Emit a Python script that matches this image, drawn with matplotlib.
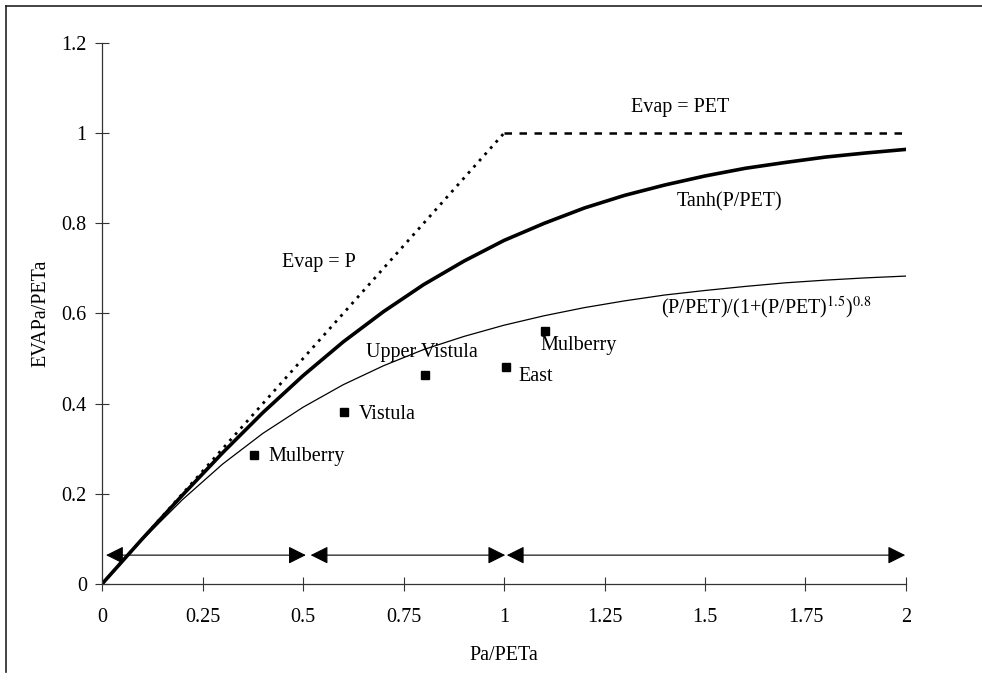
import numpy as np
import matplotlib
matplotlib.use("Agg")
from matplotlib import pyplot as plt
from matplotlib.lines import Line2D

plt.rcParams['font.family'] = ['Liberation Serif', 'DejaVu Serif']
plt.rcParams['mathtext.fontset'] = 'stix'

# curve values
p_ratio = [0.0, 0.1, 0.2, 0.3, 0.4, 0.5, 0.6, 0.7, 0.8, 0.9, 1.0,
           1.1, 1.2, 1.3, 1.4, 1.5, 1.6, 1.7, 1.8, 1.9, 2.0]
tanh_vals = [0.0, 0.100, 0.197, 0.291, 0.380, 0.462, 0.537, 0.604, 0.664, 0.716, 0.762,
             0.800, 0.834, 0.862, 0.885, 0.905, 0.922, 0.935, 0.947, 0.956, 0.964]
fu_vals = [0.0, 0.098, 0.187, 0.266, 0.334, 0.392, 0.442, 0.484, 0.520, 0.549, 0.574,
           0.595, 0.613, 0.628, 0.641, 0.651, 0.660, 0.668, 0.674, 0.679, 0.683]
evap_p_x = [0.0, 1.0]
evap_p_y = [0.0, 1.0]
evap_pet_x = [1.0, 2.0]
evap_pet_y = [1.0, 1.0]

# basins
basin_names = ['Mulberry', 'Vistula', 'Upper Vistula', 'East', 'Mulberry']
basin_x = [0.378, 0.602, 0.803, 1.005, 1.102]
basin_y = [0.286, 0.382, 0.464, 0.481, 0.561]

# range arrows
arrow_ranges = [(0.01, 0.507), (0.519, 1.003), (1.007, 1.998)]
arrow_level = 0.064

x_ticks = [0, 0.25, 0.5, 0.75, 1, 1.25, 1.5, 1.75, 2]
x_labels = ['0', '0.25', '0.5', '0.75', '1', '1.25', '1.5', '1.75', '2']
y_ticks = [0, 0.2, 0.4, 0.6, 0.8, 1.0, 1.2]
y_labels = ['0', '0.2', '0.4', '0.6', '0.8', '1', '1.2']

fs = 14.5

fig = plt.figure(figsize=(9.82, 6.8), dpi=100)
ax = fig.add_axes([0.1039, 0.1412, 0.8187, 0.7956])

ax.plot(evap_p_x, evap_p_y, color='black', lw=2.0, linestyle=(0, (1, 2)))
ax.plot(evap_pet_x, evap_pet_y, color='black', lw=1.8, linestyle=(0, (3, 3)))
ax.plot(p_ratio, tanh_vals, color='black', lw=2.6)
ax.plot(p_ratio, fu_vals, color='black', lw=0.9)

ax.plot(basin_x, basin_y, linestyle='none', marker='s', markersize=6, color='black')

for (x0, x1) in arrow_ranges:
    ax.annotate('', xy=(x1, arrow_level), xytext=(x0, arrow_level),
                arrowprops=dict(arrowstyle='<|-|>,head_length=0.9,head_width=0.45',
                                color='black', lw=0.8, mutation_scale=12,
                                shrinkA=0, shrinkB=0))

# labels on the curves
ax.text(0.54, 0.712, 'Evap = P', fontsize=fs, ha='center', va='center')
ax.text(1.438, 1.056, 'Evap = PET', fontsize=fs, ha='center', va='center')
ax.text(1.562, 0.848, 'Tanh(P/PET)', fontsize=fs, ha='center', va='center')
ax.text(1.653, 0.612, r'(P/PET)/(1+(P/PET)$^{1.5}$)$^{0.8}$', fontsize=fs,
        ha='center', va='center')

# basin labels
ax.text(0.414, 0.282, 'Mulberry', fontsize=fs, ha='left', va='center')
ax.text(0.638, 0.377, 'Vistula', fontsize=fs, ha='left', va='center')
ax.text(0.795, 0.513, 'Upper Vistula', fontsize=fs, ha='center', va='center')
ax.text(1.036, 0.461, 'East', fontsize=fs, ha='left', va='center')
ax.text(1.09, 0.528, 'Mulberry', fontsize=fs, ha='left', va='center')

ax.set_xlim(0, 2)
ax.set_ylim(0, 1.2)
ax.set_xticks(x_ticks)
ax.set_xticklabels(x_labels)
ax.set_yticks(y_ticks)
ax.set_yticklabels(y_labels)
ax.tick_params(direction='inout', length=10, width=0.8, labelsize=fs, color='#333333')
ax.tick_params(axis='x', pad=12)
ax.tick_params(axis='y', pad=6)

for side in ['top', 'right']:
    ax.spines[side].set_visible(False)
for side in ['left', 'bottom']:
    ax.spines[side].set_color('#333333')
    ax.spines[side].set_linewidth(0.9)

ax.set_xlabel('Pa/PETa', fontsize=fs, labelpad=14)
ax.set_ylabel('EVAPa/PETa', fontsize=fs, labelpad=8)

# scanned page border
fig.add_artist(Line2D([6/982, 1.0], [1 - 6/680, 1 - 6/680], color='#222222', lw=1.2))
fig.add_artist(Line2D([6/982, 6/982], [1 - 6/680, 1 - 672/680], color='#222222', lw=1.2))

fig.savefig('out.png', dpi=100)
